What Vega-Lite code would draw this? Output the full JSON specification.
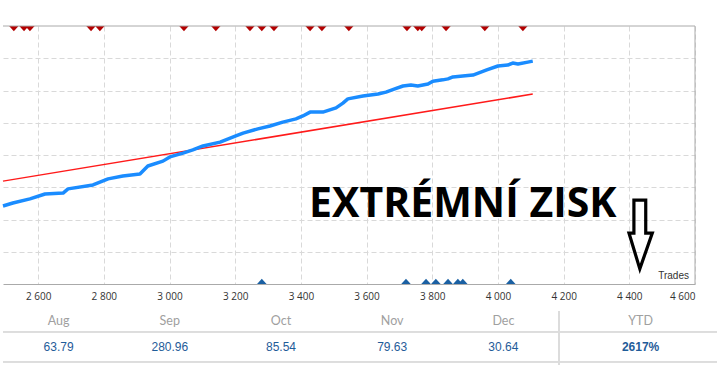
{
  "$schema": "https://vega.github.io/schema/vega-lite/v6.json",
  "padding": {"top": 25, "left": 0, "right": 0, "bottom": 0},
  "spacing": 18,
  "bounds": "flush",
  "config": {"view": {"stroke": null}},
  "datasets": {
    "equity": [
      {"trade": 2493, "growth": 2.42}, {"trade": 2523, "growth": 2.51}, {"trade": 2575, "growth": 2.64},
      {"trade": 2621, "growth": 2.79}, {"trade": 2676, "growth": 2.82}, {"trade": 2691, "growth": 2.95},
      {"trade": 2767, "growth": 3.07}, {"trade": 2813, "growth": 3.26}, {"trade": 2858, "growth": 3.35},
      {"trade": 2910, "growth": 3.41}, {"trade": 2934, "growth": 3.66}, {"trade": 2980, "growth": 3.81},
      {"trade": 3001, "growth": 3.94}, {"trade": 3041, "growth": 4.06}, {"trade": 3071, "growth": 4.16},
      {"trade": 3102, "growth": 4.28}, {"trade": 3154, "growth": 4.40}, {"trade": 3202, "growth": 4.59},
      {"trade": 3224, "growth": 4.68}, {"trade": 3269, "growth": 4.81}, {"trade": 3306, "growth": 4.90},
      {"trade": 3345, "growth": 5.02}, {"trade": 3385, "growth": 5.12}, {"trade": 3406, "growth": 5.21},
      {"trade": 3428, "growth": 5.33}, {"trade": 3467, "growth": 5.33}, {"trade": 3507, "growth": 5.46},
      {"trade": 3528, "growth": 5.61}, {"trade": 3543, "growth": 5.74}, {"trade": 3589, "growth": 5.83},
      {"trade": 3635, "growth": 5.89}, {"trade": 3659, "growth": 5.95}, {"trade": 3686, "growth": 6.05},
      {"trade": 3711, "growth": 6.14}, {"trade": 3735, "growth": 6.17}, {"trade": 3756, "growth": 6.14},
      {"trade": 3787, "growth": 6.20}, {"trade": 3802, "growth": 6.29}, {"trade": 3832, "growth": 6.33},
      {"trade": 3848, "growth": 6.36}, {"trade": 3863, "growth": 6.42}, {"trade": 3893, "growth": 6.45},
      {"trade": 3924, "growth": 6.48}, {"trade": 3948, "growth": 6.57}, {"trade": 3966, "growth": 6.64},
      {"trade": 4000, "growth": 6.76}, {"trade": 4030, "growth": 6.79}, {"trade": 4045, "growth": 6.85},
      {"trade": 4061, "growth": 6.82}, {"trade": 4091, "growth": 6.88}, {"trade": 4106, "growth": 6.91}
    ],
    "trend": [
      {"trade": 2493, "growth": 3.19}, {"trade": 4106, "growth": 5.89}
    ],
    "withdrawals": [
      {"trade": 2526}, {"trade": 2557}, {"trade": 2575}, {"trade": 2761}, {"trade": 2788},
      {"trade": 3044}, {"trade": 3141}, {"trade": 3245}, {"trade": 3281}, {"trade": 3318},
      {"trade": 3428}, {"trade": 3464}, {"trade": 3546}, {"trade": 3723}, {"trade": 3756},
      {"trade": 3768}, {"trade": 3842}, {"trade": 3960}, {"trade": 4076}
    ],
    "deposits": [
      {"trade": 3281}, {"trade": 3720}, {"trade": 3781}, {"trade": 3811},
      {"trade": 3848}, {"trade": 3878}, {"trade": 3893}, {"trade": 4039}
    ],
    "arrow": [
      {"i": 1, "trade": 4414, "growth": 2.60}, {"i": 2, "trade": 4450, "growth": 2.60},
      {"i": 3, "trade": 4450, "growth": 1.58}, {"i": 4, "trade": 4470, "growth": 1.58},
      {"i": 5, "trade": 4432, "growth": 0.47}, {"i": 6, "trade": 4399, "growth": 1.58},
      {"i": 7, "trade": 4414, "growth": 1.58}, {"i": 8, "trade": 4414, "growth": 2.60},
      {"i": 9, "trade": 4450, "growth": 2.60}
    ],
    "months": [
      {"month": "Aug", "value": "63.79"}, {"month": "Sep", "value": "280.96"},
      {"month": "Oct", "value": "85.54"}, {"month": "Nov", "value": "79.63"},
      {"month": "Dec", "value": "30.64"}, {"month": "YTD", "value": "2617%"}
    ]
  },
  "vconcat": [
    {
      "width": 692,
      "height": 258,
      "layer": [
        {
          "data": {"name": "trend"},
          "mark": {"type": "line", "color": "#ff1a1a", "strokeWidth": 1.5},
          "encoding": {
            "x": {
              "field": "trade", "type": "quantitative",
              "scale": {"domain": [2493, 4600], "nice": false, "zero": false},
              "axis": {
                "title": null,
                "values": [2600, 2800, 3000, 3200, 3400, 3600, 3800, 4000, 4200, 4400, 4600],
                "labelExpr": "replace(format(datum.value, ','), ',', ' ')",
                "labelFont": "Open Sans", "labelFontSize": 10, "labelColor": "#333333",
                "labelPadding": 7, "ticks": false,
                "domainColor": "#aaaaaa",
                "grid": true, "gridColor": "#d9d9d9", "gridDash": [5, 3]
              }
            },
            "y": {
              "field": "growth", "type": "quantitative",
              "scale": {"domain": [0, 8], "nice": false, "zero": true},
              "axis": {
                "title": null, "labels": false, "ticks": false, "domain": false,
                "values": [1, 2, 3, 4, 5, 6, 7],
                "grid": true, "gridColor": "#d9d9d9", "gridDash": [5, 3]
              }
            }
          }
        },
        {
          "data": {"name": "equity"},
          "mark": {"type": "line", "color": "#1a8cff", "strokeWidth": 3.5, "strokeJoin": "round"},
          "encoding": {
            "x": {"field": "trade", "type": "quantitative"},
            "y": {"field": "growth", "type": "quantitative"}
          }
        },
        {
          "data": {"name": "withdrawals"},
          "mark": {"type": "point", "shape": "M-1,0L1,0L0,1.1Z", "size": 90, "filled": true, "color": "#b30000", "opacity": 1},
          "encoding": {
            "x": {"field": "trade", "type": "quantitative"},
            "y": {"datum": 8, "type": "quantitative"}
          }
        },
        {
          "data": {"name": "deposits"},
          "mark": {"type": "point", "shape": "M-1,0L1,0L0,-1.1Z", "size": 90, "filled": true, "color": "#1a60a3", "opacity": 1},
          "encoding": {
            "x": {"field": "trade", "type": "quantitative"},
            "y": {"datum": 0, "type": "quantitative"}
          }
        },
        {
          "data": {"values": [{"edge": "top"}]},
          "mark": {"type": "rule", "color": "#aaaaaa", "strokeWidth": 1},
          "encoding": {"y": {"datum": 8, "type": "quantitative"}}
        },
        {
          "data": {"values": [{"edge": "right"}]},
          "mark": {"type": "rule", "color": "#aaaaaa", "strokeWidth": 1},
          "encoding": {"x": {"datum": 4600, "type": "quantitative"}}
        },
        {
          "data": {"values": [{"label": "EXTRÉMNÍ ZISK"}]},
          "mark": {"type": "text", "font": "Open Sans", "fontWeight": "bold", "fontSize": 41, "color": "#000000", "align": "center", "baseline": "alphabetic"},
          "encoding": {
            "x": {"datum": 3893, "type": "quantitative"},
            "y": {"datum": 2.08, "type": "quantitative"},
            "text": {"field": "label"}
          }
        },
        {
          "data": {"name": "arrow"},
          "mark": {"type": "line", "color": "#000000", "strokeWidth": 3.2, "strokeJoin": "miter"},
          "encoding": {
            "x": {"field": "trade", "type": "quantitative"},
            "y": {"field": "growth", "type": "quantitative"},
            "order": {"field": "i", "type": "quantitative"}
          }
        },
        {
          "data": {"values": [{"label": "Trades"}]},
          "mark": {"type": "text", "font": "Liberation Sans", "fontSize": 10, "color": "#333333", "align": "right", "baseline": "alphabetic", "dx": -6, "dy": -5},
          "encoding": {
            "x": {"datum": 4600, "type": "quantitative"},
            "y": {"datum": 0, "type": "quantitative"},
            "text": {"field": "label"}
          }
        }
      ]
    },
    {
      "width": 717,
      "height": 90,
      "data": {"name": "months"},
      "encoding": {
        "x": {
          "field": "month", "type": "nominal", "sort": null,
          "scale": {"domain": ["Aug", "Sep", "Oct", "Nov", "Dec", "YTD"], "paddingInner": 0, "paddingOuter": 0.224, "align": 0},
          "axis": null
        }
      },
      "layer": [
        {
          "mark": {"type": "rule", "color": "#dddddd", "strokeWidth": 1},
          "encoding": {"x": null, "y": {"datum": "value", "type": "nominal", "bandPosition": 0, "scale": {"domain": ["header", "value", "next"], "paddingInner": 0, "paddingOuter": 0}, "axis": null}}
        },
        {
          "mark": {"type": "rule", "color": "#dddddd", "strokeWidth": 1},
          "encoding": {"x": null, "y": {"datum": "next", "type": "nominal", "bandPosition": 0}}
        },
        {
          "mark": {"type": "rule", "color": "#dddddd", "strokeWidth": 1},
          "encoding": {"x": {"datum": "YTD", "type": "nominal", "bandPosition": 0}, "y": {"datum": "header", "type": "nominal", "bandPosition": 0.3}, "y2": {"value": "height"}}
        },
        {
          "transform": [{"filter": "datum.month !== 'YTD'"}],
          "mark": {"type": "text", "font": "Lato", "fontSize": 12.5, "color": "#a0a0a0", "baseline": "middle", "dy": 4},
          "encoding": {"y": {"datum": "header", "type": "nominal"}, "text": {"field": "month"}}
        },
        {
          "transform": [{"filter": "datum.month === 'YTD'"}],
          "mark": {"type": "text", "font": "Lato", "fontSize": 12.5, "color": "#a0a0a0", "baseline": "middle", "dy": 4, "dx": 26},
          "encoding": {"y": {"datum": "header", "type": "nominal"}, "text": {"field": "month"}}
        },
        {
          "transform": [{"filter": "datum.month !== 'YTD'"}],
          "mark": {"type": "text", "font": "Liberation Sans", "fontSize": 12, "color": "#1f5c99", "baseline": "middle"},
          "encoding": {"y": {"datum": "value", "type": "nominal"}, "text": {"field": "value"}}
        },
        {
          "transform": [{"filter": "datum.month === 'YTD'"}],
          "mark": {"type": "text", "font": "Liberation Sans", "fontSize": 12, "fontWeight": "bold", "color": "#1f5c99", "baseline": "middle", "dx": 26},
          "encoding": {"y": {"datum": "value", "type": "nominal"}, "text": {"field": "value"}}
        }
      ]
    }
  ]
}
